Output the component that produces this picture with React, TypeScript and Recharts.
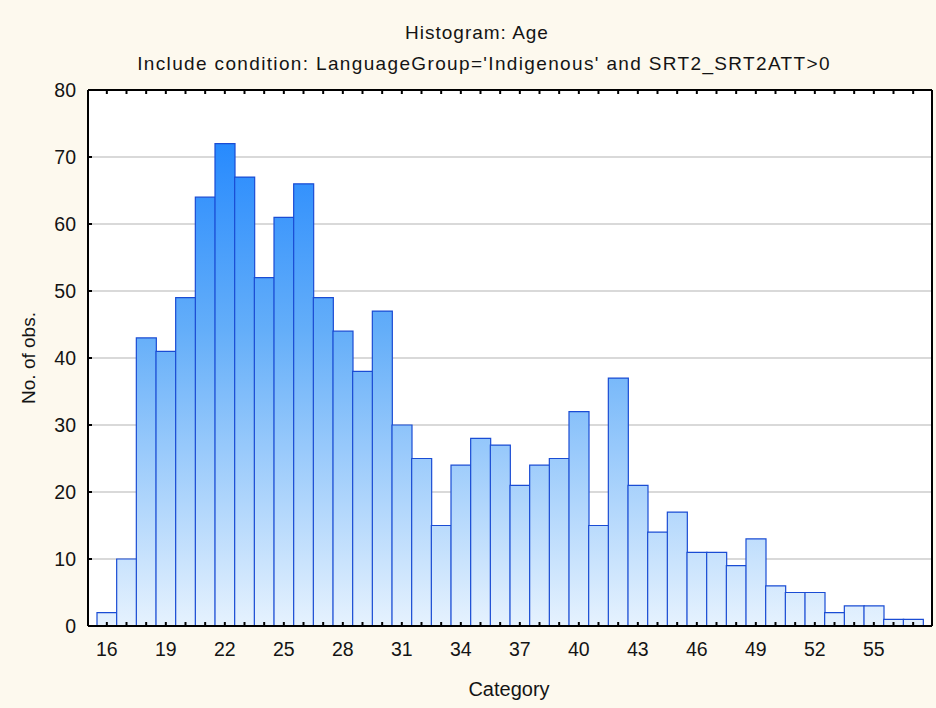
import { BarChart, Bar, XAxis, YAxis, CartesianGrid } from "recharts";

// Age histogram, one bar per year of age
const AGES = [
  16, 17, 18, 19, 20, 21, 22, 23, 24, 25, 26, 27, 28, 29, 30, 31, 32, 33, 34, 35, 36,
  37, 38, 39, 40, 41, 42, 43, 44, 45, 46, 47, 48, 49, 50, 51, 52, 53, 54, 55, 56, 57,
];
const COUNTS = [
  2, 10, 43, 41, 49, 64, 72, 67, 52, 61, 66, 49, 44, 38, 47, 30, 25, 15, 24, 28, 27,
  21, 24, 25, 32, 15, 37, 21, 14, 17, 11, 11, 9, 13, 6, 5, 5, 2, 3, 3, 1, 1,
];
const Y_TICKS = [0, 10, 20, 30, 40, 50, 60, 70, 80];
const LABEL_STEP = 3; // x labels on 16, 19, 22 ...

const TITLE = "Histogram: Age";
const SUBTITLE = "Include condition: LanguageGroup='Indigenous' and SRT2_SRT2ATT>0";

const FONT = '"Liberation Sans", Arial, sans-serif';
const INK = "#141414";
const FRAME = "#000000";
const PAGE_BG = "#fdf9ee";

const data = AGES.map((age, i) => ({ age, count: COUNTS[i] }));

function BottomTick({ x, y, payload }: any) {
  const showLabel = (payload.value - AGES[0]) % LABEL_STEP === 0;
  return (
    <g>
      <line x1={x} x2={x} y1={y} y2={y - 4} stroke={FRAME} strokeWidth={2} />
      {showLabel && (
        <text x={x} y={y + 23} textAnchor="middle" dominantBaseline="central" fontSize={19.5} fill={INK} fontFamily={FONT}>
          {payload.value}
        </text>
      )}
    </g>
  );
}

function TopTick({ x, y }: any) {
  return <line x1={x} x2={x} y1={y} y2={y + 4} stroke={FRAME} strokeWidth={2} />;
}

function LeftTick({ x, y, payload }: any) {
  return (
    <g>
      <line x1={x} x2={x + 4} y1={y} y2={y} stroke={FRAME} strokeWidth={2} />
      <text x={x - 12} y={y} textAnchor="end" dominantBaseline="central" fontSize={19.5} fill={INK} fontFamily={FONT}>
        {payload.value}
      </text>
    </g>
  );
}

function RightTick({ x, y }: any) {
  return <line x1={x} x2={x - 4} y1={y} y2={y} stroke={FRAME} strokeWidth={2} />;
}

const textStyle = {
  position: "absolute" as const,
  fontFamily: FONT,
  color: INK,
  whiteSpace: "nowrap" as const,
  lineHeight: 1,
};

export default function App() {
  return (
    <div style={{ position: "relative", width: 936, height: 708, background: PAGE_BG, overflow: "hidden" }}>
      <style>{"body{margin:0}"}</style>
      <div style={{ ...textStyle, left: 477, top: 32, fontSize: 19, letterSpacing: 1.0, transform: "translate(-50%, -50%)" }}>
        {TITLE}
      </div>
      <div style={{ ...textStyle, left: 484, top: 63, fontSize: 19, letterSpacing: 1.35, transform: "translate(-50%, -50%)" }}>
        {SUBTITLE}
      </div>
      <div style={{ ...textStyle, left: 28, top: 358, fontSize: 19, transform: "translate(-50%, -50%) rotate(-90deg)" }}>
        No. of obs.
      </div>
      <div style={{ ...textStyle, left: 509, top: 689, fontSize: 20, transform: "translate(-50%, -50%)" }}>
        Category
      </div>

      <div style={{ position: "absolute", left: 0, top: 0 }}>
        <BarChart
          width={936}
          height={708}
          data={data}
          margin={{ top: 89, right: 0, bottom: 42, left: 28 }}
          barCategoryGap={0}
          barGap={0}
        >
          <defs>
            <linearGradient id="barFill" gradientUnits="userSpaceOnUse" x1="0" y1="90" x2="0" y2="626">
              <stop offset="0%" stopColor="#1680ff" />
              <stop offset="45%" stopColor="#64aef9" />
              <stop offset="100%" stopColor="#e6f2fe" />
            </linearGradient>
          </defs>
          <CartesianGrid vertical={false} stroke="#d9d9d9" strokeWidth={2} fill="#ffffff" />
          <Bar
            dataKey="count"
            fill="url(#barFill)"
            stroke="#1a4cd4"
            strokeWidth={1.2}
            isAnimationActive={false}
          />
          <XAxis
            dataKey="age"
            interval={0}
            height={40}
            padding={{ left: 9, right: 9 }}
            tickSize={0}
            tickMargin={0}
            tickLine={false}
            axisLine={{ stroke: FRAME, strokeWidth: 2 }}
            tick={BottomTick}
          />
          <XAxis
            xAxisId="top"
            orientation="top"
            dataKey="age"
            interval={0}
            height={1}
            padding={{ left: 9, right: 9 }}
            tickSize={0}
            tickMargin={0}
            tickLine={false}
            axisLine={{ stroke: FRAME, strokeWidth: 2 }}
            tick={TopTick}
          />
          <YAxis
            domain={[0, 80]}
            ticks={Y_TICKS}
            width={60}
            tickSize={0}
            tickMargin={0}
            tickLine={false}
            axisLine={{ stroke: FRAME, strokeWidth: 2 }}
            tick={LeftTick}
          />
          <YAxis
            yAxisId="right"
            orientation="right"
            domain={[0, 80]}
            ticks={Y_TICKS}
            width={4}
            tickSize={0}
            tickMargin={0}
            tickLine={false}
            axisLine={{ stroke: FRAME, strokeWidth: 2 }}
            tick={RightTick}
          />
        </BarChart>
      </div>
    </div>
  );
}
